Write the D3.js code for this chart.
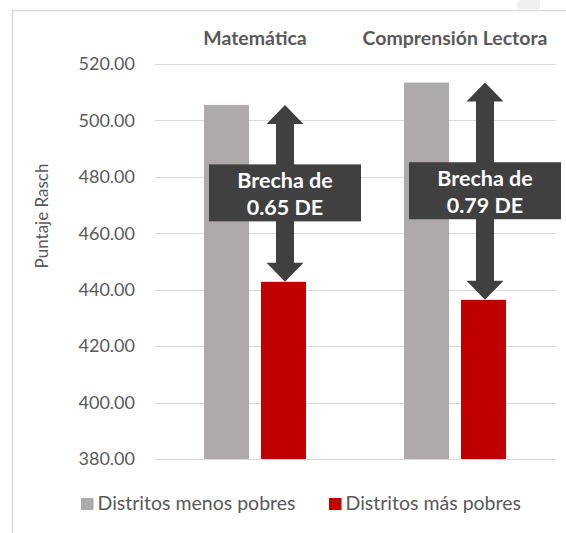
<!DOCTYPE html>
<html><head><meta charset="utf-8">
<script src="https://cdn.jsdelivr.net/npm/d3@7"></script>
<style>
html,body{margin:0;padding:0;background:#fff;}
svg{display:block;}
text{font-family:Lato,"Open Sans",sans-serif;}
</style></head>
<body><svg id="chart" width="566" height="533"></svg>
<script>
const categories = ["Matemática", "Comprensión Lectora"];
const seriesNames = ["Distritos menos pobres", "Distritos más pobres"];
const menosPobres = [505.5, 513.4];
const masPobres = [442.8, 436.4];
const gapLine1 = ["Brecha de", "Brecha de"];
const gapLine2 = ["0.65 DE", "0.79 DE"];
const yTicks = [380, 400, 420, 440, 460, 480, 500, 520];
const seriesColors = ["#aeaaaa", "#c00000"];

const svg = d3.select("#chart");
const W = 566, H = 533;

// outer frame
svg.append("rect").attr("x", 0).attr("y", 0).attr("width", W).attr("height", H).attr("fill", "#fff");
svg.append("path").attr("d", `M12.5,${H} V10.5 H${W}`).attr("fill", "none").attr("stroke", "#d9d9d9").attr("stroke-width", 1.5);
svg.append("rect").attr("x", 517).attr("y", 0).attr("width", 23).attr("height", 9).attr("rx", 3).attr("fill", "#efefef");

const y = d3.scaleLinear().domain([380, 520]).range([459, 64]);
const x0 = d3.scaleBand().domain(categories).range([155, 555]).padding(0);
const x1 = d3.scaleBand().domain(seriesNames).range([49, 151]).paddingInner(0.21).paddingOuter(0);

// gridlines
svg.append("g").selectAll("line").data(yTicks).join("line")
  .attr("x1", 155).attr("x2", 556)
  .attr("y1", d => Math.round(y(d)) + 0.5).attr("y2", d => Math.round(y(d)) + 0.5)
  .attr("stroke", "#d9d9d9").attr("stroke-width", 1);

// y axis labels
const yAxis = d3.axisLeft(y).tickValues(yTicks).tickFormat(d3.format(".2f")).tickSize(0).tickPadding(0);
const gy = svg.append("g").attr("transform", "translate(135,0)").call(yAxis);
gy.select(".domain").remove();
gy.selectAll("text").attr("font-size", 18).attr("fill", "#595959").attr("font-family", "Lato, sans-serif");

// y title
svg.append("text").attr("transform", "translate(48,216) rotate(-90)")
  .attr("text-anchor", "middle").attr("font-size", 17).attr("fill", "#595959").text("Puntaje Rasch");

// bars
const rows = categories.map((c, i) => ({cat: c, vals: [menosPobres[i], masPobres[i]]}));
const groups = svg.append("g").selectAll("g").data(rows).join("g")
  .attr("transform", d => `translate(${x0(d.cat)},0)`);
groups.selectAll("rect").data(d => d.vals.map((v, j) => ({s: seriesNames[j], v, j}))).join("rect")
  .attr("x", d => x1(d.s)).attr("width", x1.bandwidth())
  .attr("y", d => y(d.v)).attr("height", d => y(380) - y(d.v))
  .attr("fill", d => seriesColors[d.j]);

// category labels at top
svg.append("g").selectAll("text").data(categories).join("text")
  .attr("x", d => x0(d) + x0.bandwidth() / 2).attr("y", 45)
  .attr("text-anchor", "middle").attr("font-size", 19.5).attr("font-weight", "bold")
  .attr("fill", "#595959").text(d => d);

// double arrows + labels
const headW = 37, headH = 19, shaftW = 18;
rows.forEach((r, i) => {
  const cx = x0(r.cat) + x1(seriesNames[1]) + x1.bandwidth() / 2 + 1.5;
  const yt = y(menosPobres[i]), yb = y(masPobres[i]);
  const p = d3.path();
  p.moveTo(cx, yt);
  p.lineTo(cx + headW / 2, yt + headH);
  p.lineTo(cx + shaftW / 2, yt + headH);
  p.lineTo(cx + shaftW / 2, yb - headH);
  p.lineTo(cx + headW / 2, yb - headH);
  p.lineTo(cx, yb);
  p.lineTo(cx - headW / 2, yb - headH);
  p.lineTo(cx - shaftW / 2, yb - headH);
  p.lineTo(cx - shaftW / 2, yt + headH);
  p.lineTo(cx - headW / 2, yt + headH);
  p.closePath();
  svg.append("path").attr("d", p.toString()).attr("fill", "#404040");
  const my = (yt + yb) / 2 - 0.5;
  svg.append("rect").attr("x", cx - 76).attr("y", my - 28.5).attr("width", 152).attr("height", 57).attr("fill", "#404040");
  const t = svg.append("text").attr("text-anchor", "middle").attr("fill", "#fff")
    .attr("font-weight", "bold").attr("font-size", 21.5);
  t.append("tspan").attr("x", cx).attr("y", my - 5).text(gapLine1[i]);
  t.append("tspan").attr("x", cx).attr("y", my + 22).text(gapLine2[i]);
});

// legend
const legX = [81, 329];
const leg = svg.append("g").selectAll("g").data(seriesNames).join("g")
  .attr("transform", (d, i) => `translate(${legX[i]},498)`);
leg.append("rect").attr("width", 12.5).attr("height", 12).attr("fill", (d, i) => seriesColors[i]);
leg.append("text").attr("x", 16.5).attr("y", 12).attr("font-size", 19.5).attr("fill", "#595959").text(d => d);
</script></body></html>
